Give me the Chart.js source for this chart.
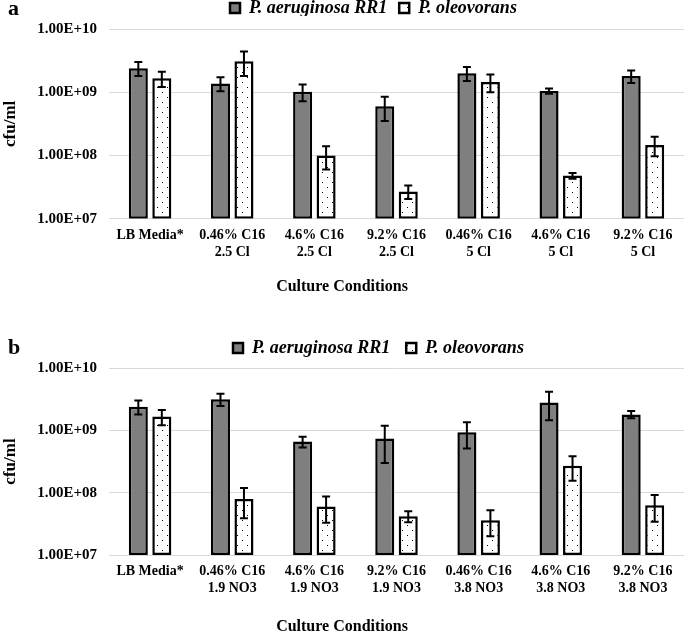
<!DOCTYPE html>
<html><head><meta charset="utf-8">
<script src="https://cdn.jsdelivr.net/npm/chart.js@4.4.1/dist/chart.umd.min.js"></script>
<style>
html,body{margin:0;padding:0;background:#fff;overflow:hidden;width:685px;height:634px;position:relative}
canvas.panel{position:absolute;left:0}
.tag{position:absolute;left:8px;font:bold 22px "Liberation Serif",serif;line-height:1;color:#000;z-index:2}
</style></head><body>
<canvas id="ca" class="panel" width="685" height="300" style="top:0"></canvas>
<canvas id="cb" class="panel" width="685" height="316" style="top:318px"></canvas>
<div class="tag" style="top:-3px">a</div>
<div class="tag" style="top:336px">b</div>
<script>
// ---- data ----
const seriesNames = ['P. aeruginosa RR1', 'P. oleovorans'];
const categoriesA = [['LB Media*'], ['0.46% C16', '2.5 Cl'], ['4.6% C16', '2.5 Cl'], ['9.2% C16', '2.5 Cl'], ['0.46% C16', '5 Cl'], ['4.6% C16', '5 Cl'], ['9.2% C16', '5 Cl']];
const aeruginosaA    = [2.4e9, 1.38e9, 1.02e9, 6.0e8, 2.0e9, 1.05e9, 1.8e9];
const aeruginosaErrA = [6.0e8, 3.4e8, 3.0e8, 2.5e8, 5.0e8, 1.0e8, 4.0e8];
const oleovoransA    = [1.66e9, 3.1e9, 1.0e8, 2.7e7, 1.45e9, 4.8e7, 1.47e8];
const oleovoransErrA = [4.5e8, 1.3e9, 4.0e7, 6.5e6, 4.5e8, 5.0e6, 5.0e7];

const categoriesB = [['LB Media*'], ['0.46% C16', '1.9 NO3'], ['4.6% C16', '1.9 NO3'], ['9.2% C16', '1.9 NO3'], ['0.46% C16', '3.8 NO3'], ['4.6% C16', '3.8 NO3'], ['9.2% C16', '3.8 NO3']];
const aeruginosaB    = [2.4e9, 3.15e9, 6.6e8, 7.4e8, 9.3e8, 2.8e9, 1.8e9];
const aeruginosaErrB = [6.0e8, 7.0e8, 1.3e8, 4.4e8, 4.2e8, 1.35e9, 2.4e8];
const oleovoransB    = [1.66e9, 7.9e7, 6.0e7, 4.2e7, 3.6e7, 2.7e8, 6.3e7];
const oleovoransErrB = [4.5e8, 4.0e7, 2.7e7, 8.5e6, 1.6e7, 1.15e8, 2.9e7];

const tickValues = [1e7, 1e8, 1e9, 1e10];
const tickLabels = ['1.00E+07', '1.00E+08', '1.00E+09', '1.00E+10'];
const xTitle = 'Culture Conditions';
const yTitle = 'cfu/ml';

// ---- styles ----
const SERIF = '"Liberation Serif", "Times New Roman", serif';
function dotPattern() {
  const c = document.createElement('canvas');
  c.width = 10; c.height = 10;
  const g = c.getContext('2d');
  g.fillStyle = '#fff'; g.fillRect(0, 0, 10, 10);
  g.fillStyle = '#000';
  g.fillRect(2, 2, 1, 1);
  g.fillRect(7, 7, 1, 1);
  return g.createPattern(c, 'repeat');
}

const errorBars = {
  id: 'errorBars',
  afterDatasetsDraw(chart) {
    const ctx = chart.ctx, y = chart.scales.y;
    chart.data.datasets.forEach((ds, i) => {
      const meta = chart.getDatasetMeta(i);
      meta.data.forEach((bar, j) => {
        const v = ds.data[j], e = ds.errors[j];
        const yt = y.getPixelForValue(v + e);
        const yb = y.getPixelForValue(Math.max(v - e, y.min));
        ctx.save();
        ctx.strokeStyle = '#000';
        ctx.lineWidth = 2;
        ctx.beginPath();
        ctx.moveTo(bar.x, yt); ctx.lineTo(bar.x, yb);
        ctx.moveTo(bar.x - 4, yt); ctx.lineTo(bar.x + 4, yt);
        ctx.moveTo(bar.x - 4, yb); ctx.lineTo(bar.x + 4, yb);
        ctx.stroke();
        ctx.restore();
      });
    });
  }
};

function legendPlace(geo) {
  return {
    id: 'legendPlace',
    beforeInit(chart) {
      const lg = chart.legend;
      const f = lg.fit.bind(lg);
      lg.fit = function () { f(); this.height = geo.plotTop; };
    },
    afterLayout(chart) {
      const lg = chart.legend;
      const p = lg.options.labels.padding;
      const fs = lg.options.labels.font.size;
      lg.left = geo.boxX - p; lg.right = lg.left + 685;
      lg.top = geo.legendCy - p - fs / 2; lg.bottom = lg.top + geo.plotTop;
    }
  };
}

function makeChart(id, cats, d1, e1, d2, e2, geo) {
  return new Chart(document.getElementById(id), {
    type: 'bar',
    data: {
      labels: cats,
      datasets: [
        { label: seriesNames[0], data: d1, errors: e1, backgroundColor: '#7f7f7f', borderColor: '#000', borderWidth: 2.5, borderSkipped: false, categoryPercentage: 0.572, barPercentage: 0.81 },
        { label: seriesNames[1], data: d2, errors: e2, backgroundColor: dotPattern(), borderColor: '#000', borderWidth: 2.5, borderSkipped: false, categoryPercentage: 0.572, barPercentage: 0.81 }
      ]
    },
    options: {
      responsive: false, animation: false, devicePixelRatio: 1,
      layout: { padding: { left: 0, right: 1, top: 0, bottom: 0 } },
      plugins: {
        legend: {
          align: 'start',
          labels: { boxWidth: 10, boxHeight: 10, padding: geo.legendGap, color: '#000',
            font: { family: SERIF, size: 18, weight: 'bold', style: 'italic' } }
        },
        title: {
          display: true, position: 'bottom', text: xTitle, color: '#000',
          font: { family: SERIF, size: 16, weight: 'bold', lineHeight: 1.2 },
          padding: { top: 0, bottom: geo.titlePad }
        },
        tooltip: { enabled: false }
      },
      scales: {
        x: {
          grid: { display: false, drawTicks: false },
          border: { display: false },
          ticks: { color: '#000', padding: 8, maxRotation: 0, autoSkip: false,
            font: { family: SERIF, size: 14, weight: 'bold', lineHeight: 1.2 } },
          afterFit(s) { s.height = geo.xH; }
        },
        y: {
          type: 'logarithmic', min: 1e7, max: 1e10,
          grid: { color: '#d9d9d9', lineWidth: 1, drawTicks: false },
          border: { display: false },
          ticks: { color: '#000', padding: 12,
            font: { family: SERIF, size: 15, weight: 'bold' },
            callback: (v) => { const i = tickValues.indexOf(v); return i >= 0 ? tickLabels[i] : ''; } },
          afterBuildTicks(s) { s.ticks = tickValues.map(v => ({ value: v })); },
          title: { display: true, text: yTitle, color: '#000',
            font: { family: SERIF, size: 17, weight: 'bold' }, padding: { top: 0, bottom: 0 } },
          afterFit(s) { s.width = 109; }
        }
      }
    },
    plugins: [errorBars, legendPlace(geo)]
  });
}

makeChart('ca', categoriesA, aeruginosaA, aeruginosaErrA, oleovoransA, oleovoransErrA,
  { plotTop: 29, xH: 58.7, titlePad: 3.4, boxX: 230, legendCy: 8, legendGap: 12 });
makeChart('cb', categoriesB, aeruginosaB, aeruginosaErrB, oleovoransB, oleovoransErrB,
  { plotTop: 50, xH: 62.4, titlePad: -2.6, boxX: 233, legendCy: 30, legendGap: 16 });
</script>
</body></html>
